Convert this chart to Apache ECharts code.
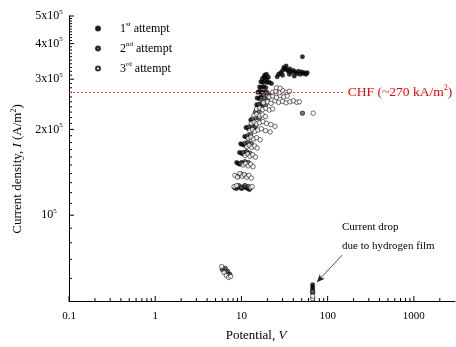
<!DOCTYPE html>
<html>
<head>
<meta charset="utf-8">
<script src="https://cdn.jsdelivr.net/npm/echarts@6/dist/echarts.min.js"></script>
<style>
  html, body { margin: 0; padding: 0; background: #fff; }
  #chart { width: 456px; height: 347px; }
</style>
</head>
<body>
<div id="chart"></div>
<script>
// [potential V, current density A/m2]
const attempt1 = [
  [6.1, 65000], [6.4, 64000], [6.8, 63000], [7.2, 62000],
  [67, 57000], [67, 56000], [67, 55000],
  [8.3, 125000], [8.7, 124000], [9.1, 126000], [9.6, 125000], [10.1, 124000], [10.6, 126000], [11.2, 125000], [11.8, 124000], [12.4, 123000],
  [8.8, 153000], [9.2, 152000], [9.6, 151000], [10.1, 153000], [10.6, 152000],
  [9.5, 166000], [10, 165000], [10.5, 164000], [11.1, 166000], [11.8, 165000],
  [9.8, 178000], [10.3, 177000], [10.9, 176000], [11.6, 178000],
  [10.9, 189000], [11.5, 188000], [12.1, 187000],
  [11.3, 203000], [11.9, 202000], [12.5, 201000], [13.2, 203000], [14, 202000],
  [12.8, 216000], [13.4, 214000],
  [15, 244000], [15.6, 243000], [16.3, 245000], [17, 242000],
  [15.2, 258000], [16, 257000], [16.8, 260000],
  [15.5, 270000], [16.2, 272000], [17, 269000], [18, 271000], [19.5, 270000],
  [16.2, 282000], [17.1, 281000], [18.1, 283000], [19.2, 280000],
  [16.8, 294000], [17.6, 293000], [18.6, 295000], [19.8, 292000], [21, 293000], [22.3, 290000],
  [17.5, 302000], [18.5, 304000], [19.6, 301000], [20.5, 305000],
  [18.5, 310000], [19.5, 312000],
  [26, 306000], [27, 312000], [28.5, 316000], [30, 322000], [31, 330000], [32, 326000], [33, 334000], [34, 324000],
  [35, 320000], [36.5, 326000], [38, 318000], [40, 322000], [42, 318000], [44, 314000], [46, 320000], [48, 312000],
  [50, 318000], [52, 314000], [54, 316000], [56, 312000], [58, 316000], [30, 310000], [36, 312000], [41, 308000],
  [51, 360000]
];
const attempt2 = [
  [8.5, 125000], [9.3, 127000], [10, 125000], [11, 127000], [12, 126000],
  [9.2, 137000], [10, 139000], [11, 138000],
  [9.8, 152000], [11, 154000], [12, 153000],
  [10.5, 166000], [11.5, 167000], [12.5, 165000],
  [11, 179000], [12, 180000], [13, 178000],
  [11.8, 190000], [12.8, 192000],
  [12.2, 204000], [13.3, 206000], [14.5, 205000],
  [13.5, 218000], [14.8, 220000], [16, 219000],
  [14.5, 230000], [15.8, 232000],
  [16, 245000], [17.5, 247000], [19, 244000],
  [17, 256000], [18.5, 258000], [20, 255000],
  [18, 266000], [20, 268000], [22, 265000],
  [51, 228000],
  [6, 64500], [6.5, 65000], [6.9, 63500], [7.3, 62000],
  [67, 53500], [67, 54000]
];
const attempt3 = [
  [8.2, 126000], [8.8, 127000], [12.8, 125000], [13.3, 126000],
  [8.4, 138000], [9, 136000], [9.6, 140000], [10.2, 137000], [10.8, 139000], [11.5, 136000], [12.2, 138000], [13, 135000],
  [10.5, 150000], [11.2, 152000], [12, 149000], [12.8, 151000], [13.6, 148000],
  [11, 162000], [11.8, 164000], [12.6, 161000], [13.5, 163000], [14.5, 160000],
  [11.5, 174000], [12.3, 176000], [13.2, 173000], [14.2, 175000], [15.2, 172000],
  [12, 186000], [12.9, 188000], [13.9, 185000], [15, 187000], [16.5, 184000],
  [12.5, 198000], [13.4, 200000], [14.4, 197000], [15.5, 199000], [17, 201000], [19, 198000], [21.5, 196000],
  [13, 210000], [14, 212000], [15, 209000], [16.2, 211000], [17.8, 213000], [19.5, 210000], [22, 208000], [24.5, 205000],
  [14, 224000], [15, 226000], [16.2, 223000], [17.5, 225000], [19, 222000],
  [15, 236000], [16.3, 238000], [17.6, 235000], [19.2, 237000], [21, 234000], [23, 236000],
  [18, 248000], [20, 250000], [22, 247000], [24.5, 252000], [27, 249000], [30, 251000], [33, 248000], [36.5, 250000], [40, 252000], [44, 249000], [47, 250000],
  [21, 260000], [23, 262000], [25.5, 259000], [28, 263000], [31, 260000], [34, 262000],
  [23, 270000], [25, 272000], [27.5, 269000], [30, 274000], [33, 270000], [36, 272000],
  [25.5, 280000], [28, 279000],
  [68, 228000],
  [5.9, 66000], [6.3, 63000], [6.7, 61500], [7.1, 60500], [7.5, 61000],
  [67, 51000], [67, 52000]
];
const seriesNames = ['1st attempt', '2nd attempt', '3rd attempt'];
const legendLabels = ['1{s|st} attempt', '2{s|nd} attempt', '3{s|rd} attempt'];
const chfValue = 270000;
const chfEnd = 150;
const dropArrow = [[147, 72400], [75, 58200]];

const xTickValues = [0.1, 1, 10, 100, 1000];
const xTickLabels = ['0.1', '1', '10', '100', '1000'];
const yTickValues = [100000, 200000, 300000, 400000, 500000];
const yTickLabels = ['10{s|5}', '2x10{s|5}', '3x10{s|5}', '4x10{s|5}', '5x10{s|5}'];

const xMin = 0.1, xMax = 3000, yMin = 50000, yMax = 500000;
const FONT = 'Liberation Serif';

function sup(size, color) {
  return { fontFamily: FONT, fontSize: size, color: color || '#000', verticalAlign: 'top', lineHeight: size + 1 };
}

// tick rows: [x, y, major, labelIndex]
const xTicks = [];
for (let d = 0.1; d < 2000; d *= 10) {
  for (let k = 2; k <= 9; k++) {
    const v = +(d * k).toPrecision(3);
    if (v < xMax) xTicks.push([v, yMin, 0, -1]);
  }
}
xTickValues.forEach((v, i) => xTicks.push([v, yMin, 1, i]));

const yTicks = [];
for (let v = 60000; v < yMax; v += 10000) {
  if (yTickValues.indexOf(v) < 0) yTicks.push([xMin, v, 0, -1]);
}
yTickValues.forEach((v, i) => yTicks.push([xMin, v, 1, i]));

const chart = echarts.init(document.getElementById('chart'));

function tickLine(p, dx, dy) {
  return { type: 'line', shape: { x1: p[0], y1: p[1], x2: p[0] + dx, y2: p[1] + dy }, style: { stroke: '#000', lineWidth: 1 } };
}

chart.setOption({
  animation: false,
  backgroundColor: '#fff',
  grid: { left: 69, top: 16, width: 386, height: 285 },
  xAxis: {
    type: 'log', logBase: 10, min: xMin, max: xMax,
    axisLine: { show: true, onZero: false, lineStyle: { color: '#000', width: 1 } },
    axisTick: { show: false }, axisLabel: { show: false }, splitLine: { show: false }
  },
  yAxis: {
    type: 'log', logBase: 10, min: yMin, max: yMax,
    axisLine: { show: true, onZero: false, lineStyle: { color: '#000', width: 1 } },
    axisTick: { show: false }, axisLabel: { show: false }, splitLine: { show: false }
  },
  legend: {
    orient: 'vertical', left: 90, top: 16, itemGap: 5,
    itemWidth: 16, itemHeight: 4,
    data: seriesNames,
    formatter: name => legendLabels[seriesNames.indexOf(name)],
    textStyle: { fontFamily: FONT, fontSize: 12, color: '#000', lineHeight: 15, padding: [0, 0, 0, 9], rich: { s: sup(7) } }
  },
  graphic: [
    { type: 'text', x: 256, y: 336, silent: true,
      style: { text: 'Potential, {i|V}', font: '13px ' + FONT, fill: '#000', align: 'center', verticalAlign: 'middle',
        rich: { i: { fontFamily: FONT, fontSize: 13, fontStyle: 'italic', color: '#000' } } } },
    { type: 'text', x: 18, y: 169, rotation: Math.PI / 2, silent: true,
      style: { text: 'Current density, {i|I} (A/m{s|2})', font: '13px ' + FONT, fill: '#000', align: 'center', verticalAlign: 'middle',
        lineHeight: 16,
        rich: { i: { fontFamily: FONT, fontSize: 13, fontStyle: 'italic', color: '#000', lineHeight: 16 }, s: sup(8) } } },
    { type: 'text', x: 342, y: 227, silent: true,
      style: { text: 'Current drop', font: '11px ' + FONT, fill: '#000', align: 'left', verticalAlign: 'middle' } },
    { type: 'text', x: 342, y: 246, silent: true,
      style: { text: 'due to hydrogen film', font: '11px ' + FONT, fill: '#000', align: 'left', verticalAlign: 'middle' } }
  ],
  series: [
    {
      name: seriesNames[0], type: 'scatter', data: attempt1, symbolSize: 4.5,
      itemStyle: { color: '#000', borderColor: '#000', borderWidth: 0.3 },
      markLine: {
        silent: true, symbol: ['none', 'none'], animation: false,
        lineStyle: { color: '#ff4a4a', type: [2, 2], width: 1 },
        label: { show: true, position: 'end', distance: 5, formatter: 'CHF (~270 kA/m{s|2})',
          fontFamily: FONT, fontSize: 13.5, color: '#ff0000', lineHeight: 17,
          rich: { s: sup(8, '#ff0000') } },
        data: [[{ coord: [xMin, chfValue] }, { coord: [chfEnd, chfValue] }]]
      }
    },
    {
      name: seriesNames[1], type: 'scatter', data: attempt2, symbolSize: 4.5,
      itemStyle: { color: '#555', borderColor: '#000', borderWidth: 0.7 },
      markLine: {
        silent: true, symbol: ['none', 'arrow'], symbolSize: [5, 8], animation: false,
        lineStyle: { color: '#222', type: 'solid', width: 0.8 },
        label: { show: false },
        data: [[{ coord: dropArrow[0] }, { coord: dropArrow[1] }]]
      }
    },
    {
      name: seriesNames[2], type: 'scatter', data: attempt3, symbolSize: 4.5,
      itemStyle: { color: '#fff', borderColor: '#000', borderWidth: 0.7 }
    },
    {
      type: 'custom', silent: true, data: xTicks, clip: false,
      renderItem(params, api) {
        const p = api.coord([api.value(0), api.value(1)]);
        const major = api.value(2) === 1;
        const children = [tickLine(p, 0, major ? -5 : -3)];
        if (major) {
          children.push({ type: 'text', x: p[0], y: p[1] + 10,
            style: { text: xTickLabels[api.value(3)], font: '11px ' + FONT, fill: '#000', align: 'center', verticalAlign: 'top' } });
        }
        return { type: 'group', children };
      }
    },
    {
      type: 'custom', silent: true, data: yTicks, clip: false,
      renderItem(params, api) {
        const p = api.coord([api.value(0), api.value(1)]);
        const major = api.value(2) === 1;
        const children = [tickLine(p, major ? 5 : 3, 0)];
        if (major) {
          children.push({ type: 'text', x: 49, y: p[1],
            style: { text: yTickLabels[api.value(3)], font: '12px ' + FONT, fill: '#000', align: 'center', verticalAlign: 'middle',
              lineHeight: 15, rich: { s: sup(7) } } });
        }
        return { type: 'group', children };
      }
    }
  ]
});
</script>
</body>
</html>
